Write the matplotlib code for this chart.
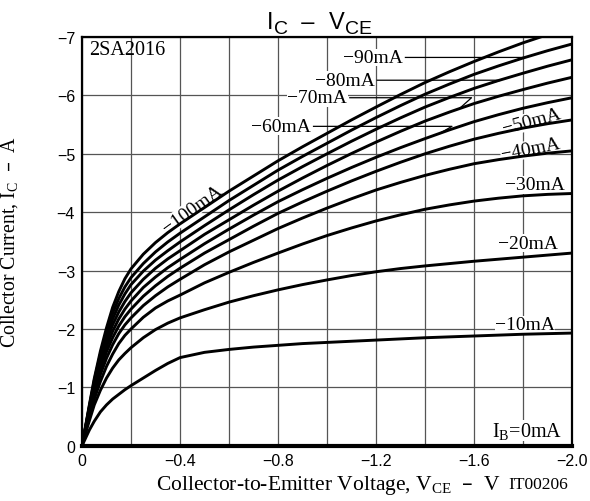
import numpy as np
import matplotlib
matplotlib.use("Agg")
import matplotlib.pyplot as plt

# V_CE sample points (V)
vce = [0, -0.01, -0.03, -0.05, -0.075, -0.1, -0.125, -0.15, -0.175, -0.2,
       -0.25, -0.3, -0.35, -0.4, -0.5, -0.6, -0.7, -0.8, -0.9,
       -1.0, -1.1, -1.2, -1.3, -1.4, -1.5, -1.6, -1.7, -1.8, -1.9, -2.0]

# collector current (A) for each base current
ic_0mA = [0.0] * len(vce)
ic_10mA = [0, -0.09, -0.27, -0.42, -0.58, -0.70, -0.80, -0.88, -0.96, -1.03,
           -1.16, -1.29, -1.41, -1.51, -1.60, -1.65, -1.69, -1.72, -1.75,
           -1.77, -1.79, -1.81, -1.83, -1.85, -1.865, -1.88, -1.895, -1.91, -1.92, -1.93]
ic_20mA = [0, -0.15, -0.43, -0.70, -0.95, -1.16, -1.33, -1.47, -1.58, -1.68,
           -1.85, -1.99, -2.10, -2.19, -2.33, -2.46, -2.57, -2.67, -2.76,
           -2.84, -2.915, -2.98, -3.035, -3.08, -3.12, -3.16, -3.195, -3.23, -3.265, -3.30]
ic_30mA = [0, -0.17, -0.50, -0.80, -1.10, -1.36, -1.57, -1.75, -1.89, -2.00,
           -2.20, -2.36, -2.48, -2.58, -2.79, -2.97, -3.14, -3.30, -3.455,
           -3.60, -3.73, -3.85, -3.955, -4.05, -4.125, -4.19, -4.24, -4.28, -4.305, -4.32]
ic_40mA = [0, -0.19, -0.55, -0.88, -1.22, -1.50, -1.73, -1.92, -2.07, -2.19,
           -2.40, -2.57, -2.72, -2.85, -3.10, -3.32, -3.52, -3.72, -3.90,
           -4.07, -4.23, -4.38, -4.51, -4.63, -4.735, -4.83, -4.90, -4.96, -5.01, -5.05]
ic_50mA = [0, -0.20, -0.59, -0.95, -1.31, -1.61, -1.85, -2.05, -2.21, -2.34,
           -2.56, -2.74, -2.90, -3.04, -3.30, -3.53, -3.76, -3.98, -4.175,
           -4.36, -4.535, -4.70, -4.855, -5.00, -5.13, -5.25, -5.35, -5.44, -5.515, -5.58]
ic_60mA = [0, -0.21, -0.62, -1.00, -1.38, -1.70, -1.96, -2.17, -2.34, -2.48,
           -2.71, -2.89, -3.05, -3.19, -3.46, -3.71, -3.95, -4.18, -4.385,
           -4.58, -4.765, -4.94, -5.105, -5.26, -5.41, -5.55, -5.67, -5.78, -5.875, -5.96]
ic_70mA = [0, -0.21, -0.64, -1.04, -1.45, -1.79, -2.07, -2.29, -2.47, -2.62,
           -2.85, -3.04, -3.20, -3.34, -3.62, -3.87, -4.12, -4.36, -4.585,
           -4.80, -5.005, -5.20, -5.385, -5.56, -5.715, -5.86, -5.985, -6.10, -6.21, -6.31]
ic_80mA = [0, -0.22, -0.66, -1.08, -1.51, -1.87, -2.17, -2.41, -2.60, -2.76,
           -2.99, -3.18, -3.34, -3.49, -3.77, -4.04, -4.30, -4.55, -4.78,
           -5.00, -5.215, -5.42, -5.615, -5.80, -5.965, -6.12, -6.255, -6.38, -6.50, -6.61]
ic_90mA = [0, -0.22, -0.68, -1.12, -1.57, -1.95, -2.27, -2.52, -2.72, -2.88,
           -3.12, -3.32, -3.49, -3.64, -3.92, -4.20, -4.46, -4.72, -4.955,
           -5.18, -5.405, -5.62, -5.825, -6.02, -6.195, -6.36, -6.505, -6.64, -6.765, -6.88]
ic_100mA = [0, -0.23, -0.70, -1.15, -1.62, -2.02, -2.37, -2.64, -2.86, -3.03,
            -3.28, -3.48, -3.65, -3.80, -4.08, -4.36, -4.62, -4.88, -5.12,
            -5.35, -5.58, -5.80, -6.015, -6.22, -6.405, -6.58, -6.745, -6.90, -7.04, -7.18]

curves = [ic_10mA, ic_20mA, ic_30mA, ic_40mA, ic_50mA,
          ic_60mA, ic_70mA, ic_80mA, ic_90mA, ic_100mA]

x_ticks = [0, -0.4, -0.8, -1.2, -1.6, -2.0]
x_tick_labels = ["0", "\u22120.4", "\u22120.8", "\u22121.2", "\u22121.6", "\u22122.0"]
y_ticks = [0, -1, -2, -3, -4, -5, -6, -7]
y_tick_labels = ["0"] + ["\u2212%d" % k for k in range(1, 8)]

SERIF = "Liberation Serif"
DASH = "\u2013"
plt.rcParams["font.family"] = "Liberation Sans"

fig = plt.figure(figsize=(5.9, 5.02), dpi=100)
ax = fig.add_axes([0.139, 0.110, 0.8305, 0.8143])

ax.set_xlim(0, -2.0)
ax.set_ylim(0, -7)
ax.set_xticks(x_ticks)
ax.set_xticklabels(x_tick_labels, fontsize=11.5)
ax.set_xticks(np.arange(-0.2, -2.0, -0.4), minor=True)
ax.set_yticks(y_ticks)
ax.set_yticklabels(y_tick_labels, fontsize=11.5)
ax.tick_params(which="both", length=0, pad=5)
ax.grid(True, which="both", color="#555555", lw=0.9, zorder=0)
ax.set_axisbelow(True)
for s in ax.spines.values():
    s.set_linewidth(1.6)

# curves
ax.plot(vce, ic_0mA, color="black", lw=3.0, zorder=3, clip_on=False)
for ic in curves:
    ax.plot(vce, ic, color="black", lw=2.1, zorder=3, solid_joinstyle="round")

# curve labels
lab = dict(family=SERIF, fontsize=14, zorder=2,
           bbox=dict(facecolor="white", edgecolor="none", pad=0.3))
ax.text(-1.808, -2.07, "\u221210mA", ha="center", va="center", **lab)
ax.text(-1.820, -3.47, "\u221220mA", ha="center", va="center", **lab)
ax.text(-1.850, -4.47, "\u221230mA", ha="center", va="center", **lab)
ax.text(-1.830, -5.08, "\u221240mA", ha="center", va="center", rotation=11, **lab)
ax.text(-1.835, -5.56, "\u221250mA", ha="center", va="center", rotation=15, **lab)
ax.text(-0.450, -4.06, "\u2212100mA", ha="center", va="center", rotation=36, **lab)
ax.text(-1.960, -0.26, r"$\mathregular{I_B}$=0mA", ha="right", va="center",
        **dict(lab, fontsize=14.5))
ax.text(0.014, -6.78, "2SA2016", ha="left", va="center", transform=ax.get_yaxis_transform(),
        family=SERIF, fontsize=14.5)

# leader labels for the upper curves: (text, label end V, leader y, leader end V, curve)
leaders = [("\u221260mA", -0.935, -5.47, -1.51, ic_60mA),
           ("\u221270mA", -1.083, -5.96, -1.59, ic_70mA),
           ("\u221280mA", -1.195, -6.26, -1.71, ic_80mA),
           ("\u221290mA", -1.310, -6.65, -1.80, ic_90mA)]
for txt, xl, yl, xe, ic in leaders:
    ax.text(xl, yl, txt, ha="right", va="center", **lab)
    xh = xe + 0.05
    yh = np.interp(-xh, -np.array(vce), ic)
    ax.plot([xl - 0.01, xe, xh], [yl, yl, yh], color="black", lw=0.9, zorder=2)

# title built from pieces so the subscripts stay large
t = fig.text(0.4525, 0.942, "I", fontsize=17, va="baseline", ha="left")
parts = [("C", 14, -3.0), ("  " + DASH + "  ", 17, 0.0), ("V", 17, 0.0), ("CE", 14, -3.0)]
prev = t
for s, fs, dy in parts:
    prev = fig.add_artist(plt.Annotation(s, xy=(1, 0), xycoords=(prev, t),
                                         xytext=(0.3, dy), textcoords="offset points",
                                         fontsize=fs, va="bottom", ha="left"))

ax.set_xlabel(r"Collector-to-Emitter Voltage, $\mathregular{V_{CE}}$  " + DASH + "  V",
              family=SERIF, fontsize=15.5, labelpad=3)
ax.xaxis.set_label_coords(0.502, -0.066)
ax.set_ylabel(r"Collector Current, $\mathregular{I_C}$  " + DASH + "  A",
              family=SERIF, fontsize=14.3)
ax.yaxis.set_label_coords(-0.127, 0.5)
fig.text(0.861, 0.033, "IT00206", family=SERIF, fontsize=12.5, ha="left", va="center")

fig.savefig("out.png", dpi=100)
